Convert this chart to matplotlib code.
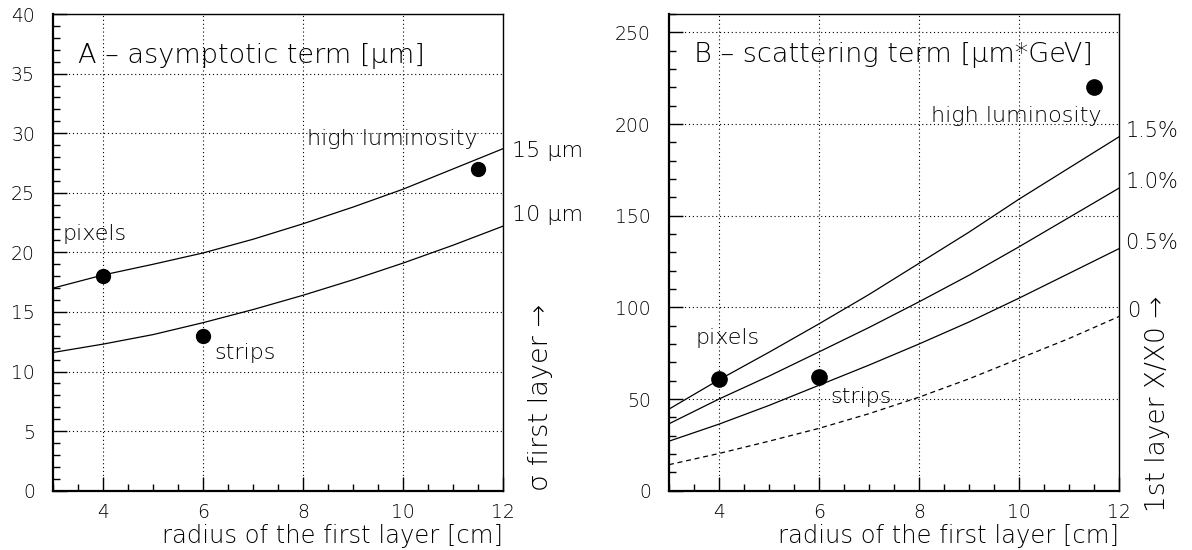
import matplotlib
matplotlib.use("Agg")
import matplotlib.pyplot as plt
from matplotlib.ticker import MultipleLocator

plt.rcParams['font.family'] = ['DejaVu Sans']
plt.rcParams['font.weight'] = 'light'

# radius of the first layer [cm]
radius = [3, 4, 5, 6, 7, 8, 9, 10, 11, 12]

# panel A: asymptotic term [um] for 15 um and 10 um first-layer resolution
a_15um = [17.0, 18.1, 19.0, 19.95, 21.1, 22.4, 23.8, 25.3, 27.0, 28.7]
a_10um = [11.6, 12.3, 13.1, 14.1, 15.2, 16.4, 17.7, 19.1, 20.6, 22.2]

# panel B: scattering term [um*GeV] for first-layer X/X0
b_15 = [44.5, 60.5, 75.5, 91.0, 107.0, 124.0, 141.0, 159.0, 176.0, 193.0]
b_10 = [36.5, 50.0, 62.5, 75.7, 89.0, 103.0, 117.5, 133.0, 149.0, 165.0]
b_05 = [27.0, 36.3, 46.5, 57.5, 68.5, 80.0, 92.0, 105.0, 118.5, 132.0]
b_00 = [14.2, 20.3, 27.0, 34.0, 42.0, 51.0, 61.0, 72.0, 83.0, 95.0]

# detectors
det_names = ['pixels', 'strips', 'high luminosity']
det_r = [4, 6, 11.5]
det_a = [18, 13, 27]
det_b = [61, 62, 220]

fig = plt.figure(figsize=(11.92, 5.5), dpi=100)
axA = fig.add_axes([0.0445, 0.1078, 0.3775, 0.8667])
axB = fig.add_axes([0.5612, 0.1078, 0.3775, 0.8667])


def style(ax, ymax, ymaj, ymin):
    ax.set_xlim(3, 12)
    ax.set_ylim(0, ymax)
    ax.xaxis.set_major_locator(MultipleLocator(2))
    ax.xaxis.set_minor_locator(MultipleLocator(0.5))
    ax.yaxis.set_major_locator(MultipleLocator(ymaj))
    ax.yaxis.set_minor_locator(MultipleLocator(ymin))
    ax.tick_params(which='both', direction='in', top=False, right=False,
                   labelsize=13.5, width=1.0, color='k')
    ax.tick_params(axis='y', which='major', length=10, pad=13)
    ax.tick_params(axis='x', which='major', length=10, pad=9)
    ax.tick_params(which='minor', length=5)
    ax.grid(which='major', color='k', linestyle=(0, (1, 2.5)), linewidth=0.8)
    for s in ['left', 'bottom']:
        ax.spines[s].set_linewidth(1.6)
    for s in ['top', 'right']:
        ax.spines[s].set_linewidth(1.0)
    ax.text(1.0, -0.11, 'radius of the first layer [cm]', transform=ax.transAxes,
            ha='right', va='baseline', fontsize=17.5)


style(axA, 40, 5, 1)
style(axB, 260, 50, 10)

# panel A
axA.plot(radius, a_15um, color='k', lw=0.9)
axA.plot(radius, a_10um, color='k', lw=0.9)
axA.plot(det_r, det_a, 'o', color='k', ms=10, zorder=5)
axA.text(3.5, 35.9, 'A \u2013 asymptotic term [\u03bcm]', fontsize=19.5, va='baseline')
axA.text(3.19, 21.05, det_names[0], fontsize=16, va='baseline')
axA.text(6.22, 11.04, det_names[1], fontsize=16, va='baseline')
axA.text(8.07, 29.0, det_names[2], fontsize=16, va='baseline')
axA.text(12.18, 28.0, '15 \u03bcm', fontsize=16, va='baseline', clip_on=False)
axA.text(12.18, 22.6, '10 \u03bcm', fontsize=16, va='baseline', clip_on=False)
axA.text(12.75, 0, '\u03c3 first layer \u2192', rotation=90, fontsize=19.5,
         ha='center', va='bottom', clip_on=False)

# panel B
axB.plot(radius, b_15, color='k', lw=0.9)
axB.plot(radius, b_10, color='k', lw=0.9)
axB.plot(radius, b_05, color='k', lw=0.9)
axB.plot(radius, b_00, color='k', lw=0.9, linestyle=(0, (4, 3)))
axB.plot(det_r, det_b, 'o', color='k', ms=11, zorder=5)
axB.text(3.5, 233.9, 'B \u2013 scattering term [\u03bcm*GeV]', fontsize=19.5, va='baseline')
axB.text(3.53, 80.0, det_names[0], fontsize=16, va='baseline')
axB.text(6.22, 47.7, det_names[1], fontsize=16, va='baseline')
axB.text(8.25, 201.0, det_names[2], fontsize=16, va='baseline')
for yv, lab in zip([b_15[-1], b_10[-1], b_05[-1]], ['1.5%', '1.0%', '0.5%']):
    axB.text(12.13, yv, lab, fontsize=15, va='baseline', clip_on=False)
axB.text(12.17, b_00[-1], '0', fontsize=15, va='baseline', clip_on=False)
axB.text(12.77, -11.6, '1st layer X/X0 \u2192', rotation=90, fontsize=19,
         ha='center', va='bottom', clip_on=False)

fig.savefig('out.png', dpi=100)
